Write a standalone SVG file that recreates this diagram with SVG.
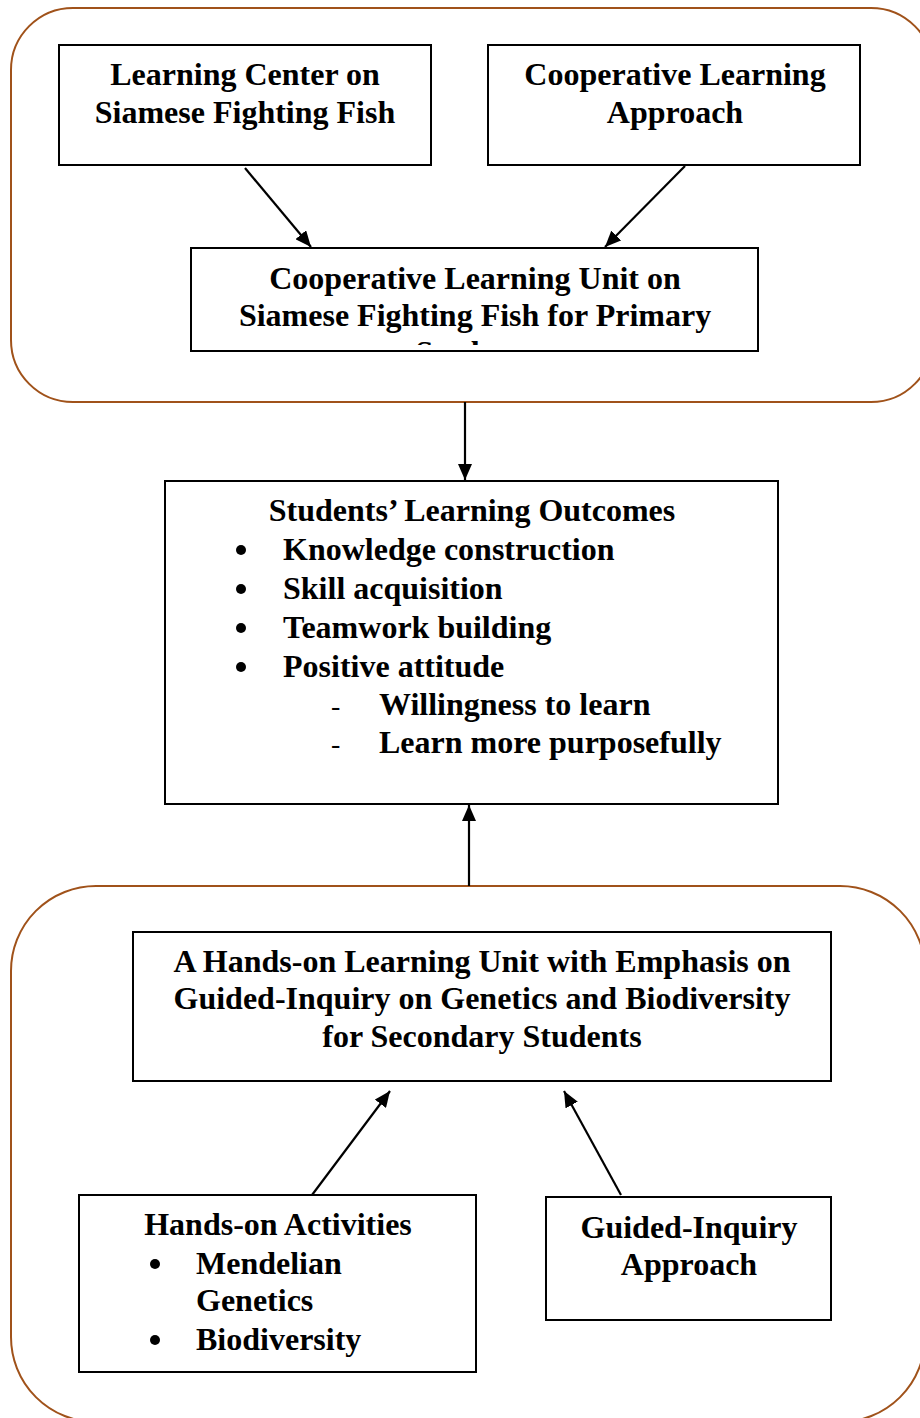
<svg xmlns="http://www.w3.org/2000/svg" width="920" height="1418" viewBox="0 0 920 1418">
  <defs>
    <style>
      .grp { fill: none; stroke: #a0521a; stroke-width: 2; }
      .box { fill: #fff; stroke: #000; stroke-width: 2; }
      .t { font-family: "Liberation Serif", "Times New Roman", serif; font-weight: bold; font-size: 32px; fill: #000; }
      .c { text-anchor: middle; }
      .dash { font-weight: normal; font-size: 28px; }
      .edge { stroke: #000; stroke-width: 2.2; fill: none; marker-end: url(#arrow); }
    </style>
    <marker id="arrow" viewBox="0 0 16 14" refX="16" refY="7" markerWidth="16" markerHeight="14" markerUnits="userSpaceOnUse" orient="auto">
      <path d="M0,0 L16,7 L0,14 z" fill="#000"/>
    </marker>
    <!-- the unit box text overflows; only the top of the last line shows -->
    <clipPath id="clipUnit">
      <rect x="192" y="249" width="565" height="96"/>
    </clipPath>
  </defs>
  <rect width="920" height="1418" fill="#fff"/>

  <!-- group frames -->
  <g id="primary-group">
    <rect class="grp" x="11" y="8" width="922" height="394" rx="62" ry="62"/>
  </g>
  <g id="secondary-group">
    <rect class="grp" x="11" y="886" width="914" height="536" rx="85" ry="85"/>
  </g>

  <!-- connectors -->
  <g id="connectors">
    <line class="edge" x1="245" y1="168" x2="311" y2="247"/>
    <line class="edge" x1="685" y1="166" x2="605" y2="247"/>
    <line class="edge" x1="465" y1="402" x2="465" y2="480"/>
    <line class="edge" x1="469" y1="886" x2="469" y2="805"/>
    <line class="edge" x1="312" y1="1195" x2="390" y2="1091"/>
    <line class="edge" x1="621" y1="1195" x2="564" y2="1091"/>
  </g>

  <g id="learning-center">
    <rect class="box" x="59" y="45" width="372" height="120"/>
    <text class="t c" x="245" y="85">Learning Center on</text>
    <text class="t c" x="245" y="123">Siamese Fighting Fish</text>
  </g>

  <g id="cooperative-approach">
    <rect class="box" x="488" y="45" width="372" height="120"/>
    <text class="t c" x="675" y="85">Cooperative Learning</text>
    <text class="t c" x="675" y="123">Approach</text>
  </g>

  <g id="cooperative-unit">
    <rect class="box" x="191" y="248" width="567" height="103"/>
    <g clip-path="url(#clipUnit)">
      <text class="t c" x="475" y="289">Cooperative Learning Unit on</text>
      <text class="t c" x="475" y="326">Siamese Fighting Fish for Primary</text>
      <text class="t c" x="475" y="363">Students</text>
    </g>
  </g>

  <g id="learning-outcomes">
    <rect class="box" x="165" y="481" width="613" height="323"/>
    <text class="t c" x="472" y="521">Students’ Learning Outcomes</text>
    <circle cx="241" cy="550" r="5"/>
    <text class="t" x="283" y="560">Knowledge construction</text>
    <circle cx="241" cy="589" r="5"/>
    <text class="t" x="283" y="599">Skill acquisition</text>
    <circle cx="241" cy="628" r="5"/>
    <text class="t" x="283" y="638">Teamwork building</text>
    <circle cx="241" cy="667" r="5"/>
    <text class="t" x="283" y="677">Positive attitude</text>
    <text class="t dash" x="331" y="715">-</text>
    <text class="t" x="379" y="715">Willingness to learn</text>
    <text class="t dash" x="331" y="753">-</text>
    <text class="t" x="379" y="753">Learn more purposefully</text>
  </g>

  <g id="hands-on-unit">
    <rect class="box" x="133" y="932" width="698" height="149"/>
    <text class="t c" x="482" y="972">A Hands-on Learning Unit with Emphasis on</text>
    <text class="t c" x="482" y="1009">Guided-Inquiry on Genetics and Biodiversity</text>
    <text class="t c" x="482" y="1047">for Secondary Students</text>
  </g>

  <g id="hands-on-activities">
    <rect class="box" x="79" y="1195" width="397" height="177"/>
    <text class="t c" x="278" y="1235">Hands-on Activities</text>
    <circle cx="155" cy="1264" r="5"/>
    <text class="t" x="196" y="1274">Mendelian</text>
    <text class="t" x="196" y="1311">Genetics</text>
    <circle cx="155" cy="1340" r="5"/>
    <text class="t" x="196" y="1350">Biodiversity</text>
  </g>

  <g id="guided-inquiry">
    <rect class="box" x="546" y="1197" width="285" height="123"/>
    <text class="t c" x="689" y="1238">Guided-Inquiry</text>
    <text class="t c" x="689" y="1275">Approach</text>
  </g>
</svg>
